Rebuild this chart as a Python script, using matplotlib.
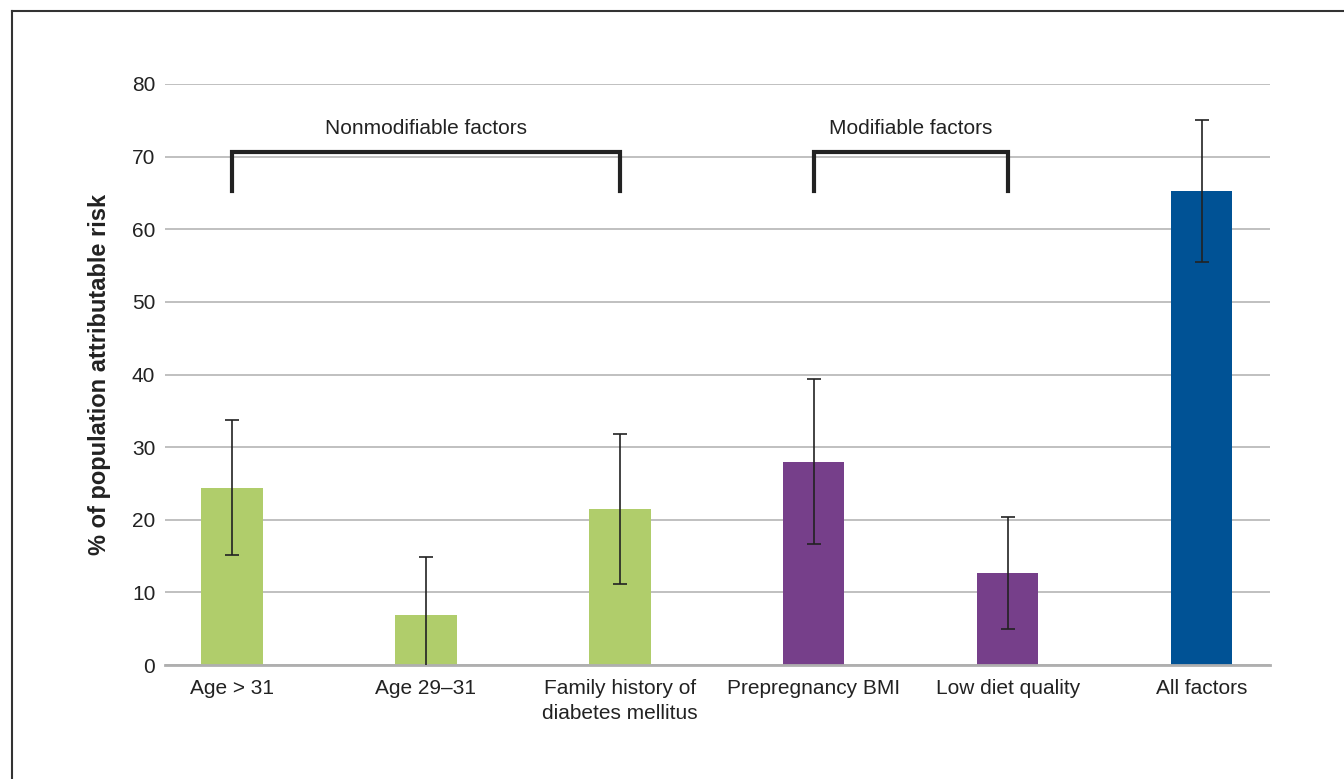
import matplotlib
matplotlib.use("Agg")
import matplotlib.pyplot as plt
from matplotlib.lines import Line2D
import numpy as np

plt.rcParams['font.family'] = ['Liberation Sans', 'DejaVu Sans']

# data
categories = ["Age > 31", "Age 29\u201331", "Family history of\ndiabetes mellitus",
              "Prepregnancy BMI", "Low diet quality", "All factors"]
values = [24.4, 6.9, 21.5, 28.0, 12.7, 65.3]
errors = [9.3, 8.0, 10.3, 11.4, 7.7, 9.8]
colors = ["#B0CD6B", "#B0CD6B", "#B0CD6B", "#763F8A", "#763F8A", "#005295"]

groups = [("Nonmodifiable factors", 0, 2), ("Modifiable factors", 3, 4)]
bracket_top = 70.6
bracket_bottom = 65.2

fig = plt.figure(figsize=(13.44, 7.79), dpi=100)
ax = fig.add_axes([0.1228, 0.1463, 0.822, 0.7459])

x = np.arange(len(categories))
ax.bar(x, values, width=0.315, color=colors, zorder=2)
ax.errorbar(x, values, yerr=errors, fmt='none', ecolor='#222222',
            elinewidth=1.2, capsize=5, capthick=1.2, zorder=3)

# group brackets
for label, i0, i1 in groups:
    ax.plot([x[i0], x[i0], x[i1], x[i1]],
            [bracket_bottom, bracket_top, bracket_top, bracket_bottom],
            color='#222222', lw=3, solid_joinstyle='miter', zorder=4)
    ax.text((x[i0] + x[i1]) / 2, 73.9, label, ha='center', va='center',
            fontsize=15, color='#222222')

ax.set_xlim(-0.345, 5.35)
ax.set_ylim(0, 80)
ax.set_yticks(range(0, 81, 10))
ax.set_xticks(x)
ax.set_xticklabels(categories, fontsize=15, color='#222222', linespacing=1.42)
ax.tick_params(axis='y', labelsize=15, labelcolor='#222222', length=0, pad=7)
ax.tick_params(axis='x', length=0, pad=10)
ax.yaxis.grid(True, color='#BBBBBB', lw=1.3)
ax.set_axisbelow(True)
for s in ['top', 'right', 'left']:
    ax.spines[s].set_visible(False)
ax.spines['bottom'].set_color('#AFAFAF')
ax.spines['bottom'].set_linewidth(2)

ax.set_ylabel("% of population attributable risk", fontsize=17,
              fontweight='bold', color='#222222', labelpad=15)

# outer frame (left and top edges)
fig.add_artist(Line2D([12 / 1344, 12 / 1344], [0, 1 - 11 / 779],
                      transform=fig.transFigure, color='#333333', lw=1.5))
fig.add_artist(Line2D([12 / 1344, 1], [1 - 11 / 779, 1 - 11 / 779],
                      transform=fig.transFigure, color='#333333', lw=1.5))

fig.savefig("out.png", dpi=100)
